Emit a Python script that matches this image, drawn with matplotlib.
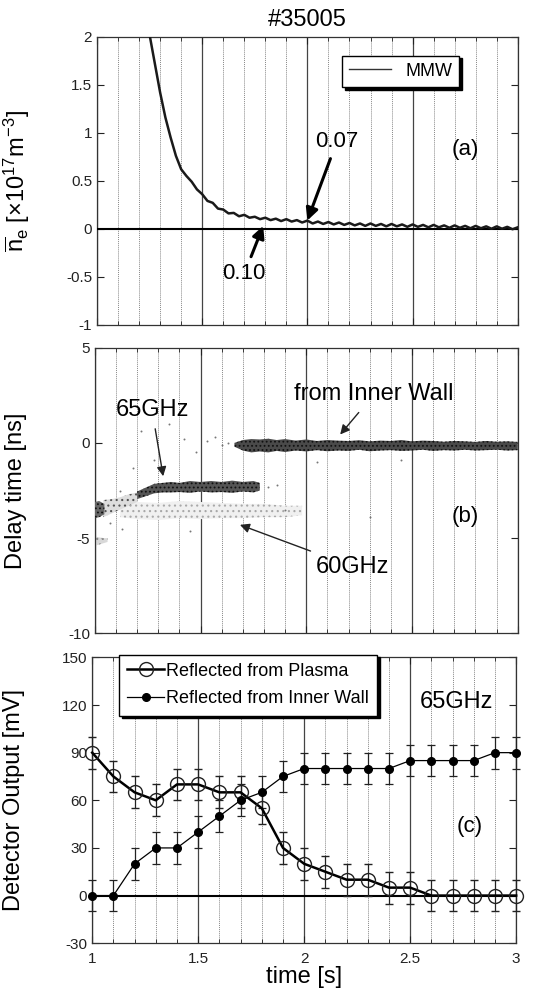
import matplotlib.pyplot as plt
import numpy as np

plt.rcParams['font.family'] = ['Liberation Sans', 'DejaVu Sans']
plt.rcParams['mathtext.fontset'] = 'custom'
plt.rcParams['mathtext.rm'] = 'Liberation Sans'
plt.rcParams['mathtext.it'] = 'Liberation Sans:italic'
plt.rcParams['axes.unicode_minus'] = False
plt.rcParams['hatch.linewidth'] = 0.8

# (a) line density from MMW, every 0.025 s starting at 1.25 s
ne_start = 1.25
ne_step = 0.025
ne_vals = [2.02, 1.72, 1.42, 1.16, 0.95, 0.76, 0.62, 0.55, 0.49, 0.41,
           0.36, 0.29, 0.27, 0.21, 0.20, 0.16, 0.165, 0.13, 0.145, 0.115,
           0.125, 0.10, 0.115, 0.09, 0.105, 0.08, 0.10, 0.075, 0.09, 0.065,
           0.085, 0.055, 0.075, 0.05, 0.07, 0.045, 0.065, 0.04, 0.06, 0.035,
           0.055, 0.03, 0.055, 0.03, 0.05, 0.025, 0.05, 0.025, 0.045, 0.02,
           0.045, 0.02, 0.04, 0.015, 0.04, 0.015, 0.035, 0.01, 0.035, 0.01,
           0.03, 0.005, 0.03, 0.005, 0.025, 0.0, 0.025, 0.0, 0.02, -0.005,
           0.015]
ne_t = ne_start + ne_step * np.arange(len(ne_vals))

# (b) delay time bands (edges)
wall_x = [1.66, 1.70, 1.74, 1.78, 1.82, 1.86, 1.90, 1.95, 2.0, 2.05,
          2.1, 2.15, 2.2, 2.25, 2.3, 2.35, 2.4, 2.45, 2.5, 2.55,
          2.6, 2.65, 2.7, 2.75, 2.8, 2.85, 2.9, 2.95, 3.0]
wall_lo = [-0.2, -0.4, -0.5, -0.45, -0.5, -0.42, -0.48, -0.4, -0.45, -0.38,
           -0.44, -0.4, -0.42, -0.36, -0.44, -0.4, -0.38, -0.42, -0.4, -0.36,
           -0.42, -0.38, -0.4, -0.36, -0.4, -0.38, -0.36, -0.4, -0.38]
wall_hi = [0.0, 0.15, 0.2, 0.18, 0.22, 0.15, 0.2, 0.12, 0.18, 0.1,
           0.15, 0.12, 0.1, 0.14, 0.08, 0.12, 0.1, 0.15, 0.08, 0.12,
           0.1, 0.06, 0.1, 0.08, 0.05, 0.1, 0.06, 0.08, 0.05]

g65_x = [1.2, 1.24, 1.28, 1.32, 1.36, 1.4, 1.45, 1.5, 1.55, 1.6, 1.65, 1.7, 1.75, 1.78]
g65_lo = [-2.95, -2.8, -2.65, -2.6, -2.6, -2.58, -2.62, -2.55, -2.6, -2.58, -2.62, -2.55, -2.6, -2.5]
g65_hi = [-2.55, -2.35, -2.15, -2.1, -2.05, -2.1, -2.0, -2.05, -2.0, -2.05, -1.98, -2.05, -2.0, -2.1]

rise_x = [1.04, 1.08, 1.12, 1.16, 1.2]
rise_lo = [-3.9, -3.7, -3.5, -3.3, -3.1]
rise_hi = [-3.0, -2.95, -2.85, -2.7, -2.6]

early_x = [1.0, 1.02, 1.045]
early_lo = [-3.95, -3.9, -3.75]
early_hi = [-3.1, -3.05, -3.2]

g60_x = [1.12, 1.2, 1.3, 1.4, 1.5, 1.6, 1.7, 1.8, 1.9, 1.98]
g60_lo = [-3.9, -4.0, -4.05, -3.95, -4.0, -3.95, -3.95, -3.9, -3.9, -3.8]
g60_hi = [-3.0, -3.1, -3.15, -3.05, -3.1, -3.15, -3.2, -3.2, -3.3, -3.3]

low_x = [1.0, 1.03, 1.06]
low_lo = [-5.4, -5.3, -5.2]
low_hi = [-4.9, -5.0, -5.0]

stray_x = [1.07, 1.12, 1.18, 1.22, 1.28, 1.35, 1.42, 1.48, 1.53, 1.57,
           1.6, 1.63, 1.82, 1.86, 1.9, 2.05, 2.3, 2.45, 1.13, 1.45]
stray_y = [-4.2, -2.5, -1.3, 0.6, -0.9, 1.0, 0.2, -0.5, 0.1, 0.3,
           -0.1, 0.0, -2.3, -2.2, -3.5, -1.0, -3.9, -0.9, -4.5, -4.6]

# (c) detector output, 65GHz
t_c = [1.0, 1.1, 1.2, 1.3, 1.4, 1.5, 1.6, 1.7, 1.8, 1.9, 2.0,
       2.1, 2.2, 2.3, 2.4, 2.5, 2.6, 2.7, 2.8, 2.9, 3.0]
plasma = [90, 75, 65, 60, 70, 70, 65, 65, 55, 30, 20,
          15, 10, 10, 5, 5, 0, 0, 0, 0, 0]
wall = [0, 0, 20, 30, 30, 40, 50, 60, 65, 75, 80,
        80, 80, 80, 80, 85, 85, 85, 85, 90, 90]
err = 10


def frame(ax):
    ax.set_xlim(1, 3)
    ax.set_xticks([1, 1.5, 2, 2.5, 3])
    ax.set_xticks(np.arange(1.1, 3.0, 0.1), minor=True)
    ax.grid(which='minor', axis='x', color='#888888', lw=0.7, ls=(0, (1, 1)))
    ax.grid(which='major', axis='x', color='#444444', lw=0.9, ls='-')
    ax.tick_params(which='both', direction='in', right=True, top=True,
                   labelsize=11, colors='#222222')
    ax.tick_params(which='major', length=5)
    ax.tick_params(which='minor', length=3)
    for s in ax.spines.values():
        s.set_color('#333333')
        s.set_linewidth(0.9)


fig = plt.figure(figsize=(5.36, 9.96), dpi=100)
ax_a = fig.add_axes([0.181, 0.674, 0.785, 0.289])
ax_b = fig.add_axes([0.177, 0.364, 0.789, 0.287])
ax_c = fig.add_axes([0.172, 0.053, 0.791, 0.287])

# ---- (a)
frame(ax_a)
ax_a.set_ylim(-1, 2)
ax_a.set_yticks([-1, -0.5, 0, 0.5, 1, 1.5, 2])
ax_a.set_yticklabels(['-1', '-0.5', '0', '0.5', '1', '1.5', '2'])
ax_a.tick_params(labelbottom=False)
ax_a.axhline(0, color='k', lw=1.5, zorder=3)
ax_a.plot(ne_t, ne_vals, color='#1a1a1a', lw=1.8, zorder=4)
ax_a.plot([], [], color='#333333', lw=1, label='MMW')
ax_a.legend(loc='upper left', bbox_to_anchor=(0.582, 0.935), fontsize=13,
            fancybox=False, edgecolor='k', framealpha=1, handlelength=2.3,
            borderaxespad=0, shadow={'color': 'k', 'alpha': 1})
ax_a.set_title('#35005', fontsize=17, pad=8)
ax_a.set_ylabel(r'$\overline{\mathrm{n}}_\mathrm{e}$ [×10$^{17}$m$^{-3}$]', fontsize=17)
ax_a.yaxis.set_label_coords(-0.154, 0.5)
ax_a.annotate('0.07', xy=(2.0, 0.086), xytext=(2.14, 0.91), fontsize=16,
              ha='center', va='center',
              arrowprops=dict(arrowstyle='-|>', color='k', lw=2.2,
                              mutation_scale=18, shrinkA=3, shrinkB=0))
ax_a.annotate('0.10', xy=(1.79, 0.03), xytext=(1.70, -0.47), fontsize=16,
              ha='center', va='center',
              arrowprops=dict(arrowstyle='-|>', color='k', lw=2.2,
                              mutation_scale=18, shrinkA=3, shrinkB=0))
ax_a.text(2.75, 0.83, '(a)', fontsize=16, ha='center', va='center')

# ---- (b)
frame(ax_b)
ax_b.set_ylim(-10, 5)
ax_b.set_yticks([-10, -5, 0, 5])
ax_b.tick_params(labelbottom=False)
ax_b.fill_between(g60_x, g60_lo, g60_hi, facecolor='#f0f0f0', edgecolor='#a8a8a8',
                  hatch='...', lw=0, zorder=2)
ax_b.fill_between(low_x, low_lo, low_hi, facecolor='#d8d8d8', edgecolor='#888888',
                  hatch='...', lw=0, zorder=2)
ax_b.fill_between(rise_x, rise_lo, rise_hi, facecolor='#dddddd', edgecolor='#555555',
                  hatch='...', lw=0, zorder=2)
ax_b.fill_between(early_x, early_lo, early_hi, facecolor='#666666', edgecolor='#111111',
                  hatch='....', lw=0, zorder=3)
ax_b.fill_between(g65_x, g65_lo, g65_hi, facecolor='#555555', edgecolor='#111111',
                  hatch='....', lw=0, zorder=3)
ax_b.fill_between(wall_x, wall_lo, wall_hi, facecolor='#4a4a4a', edgecolor='#111111',
                  hatch='....', lw=0, zorder=3)
ax_b.scatter(stray_x, stray_y, s=2, color='#777777', zorder=3, lw=0)
ax_b.set_ylabel('Delay time [ns]', fontsize=17)
ax_b.yaxis.set_label_coords(-0.161, 0.5)
ax_b.annotate('65GHz', xy=(1.323, -1.75), xytext=(1.27, 1.75), fontsize=17,
              ha='center', va='center',
              arrowprops=dict(arrowstyle='-|>', color='#222222', lw=1,
                              mutation_scale=14, shrinkA=4, shrinkB=0))
ax_b.annotate('from Inner Wall', xy=(2.16, 0.44), xytext=(2.32, 2.54), fontsize=17,
              ha='center', va='center',
              arrowprops=dict(arrowstyle='-|>', color='#222222', lw=1,
                              mutation_scale=14, shrinkA=4, shrinkB=0))
ax_b.annotate('60GHz', xy=(1.686, -4.3), xytext=(2.22, -6.5), fontsize=17,
              ha='center', va='center',
              arrowprops=dict(arrowstyle='-|>', color='#222222', lw=1,
                              mutation_scale=14, shrinkA=4, shrinkB=0))
ax_b.text(2.75, -3.86, '(b)', fontsize=16, ha='center', va='center')

# ---- (c)
frame(ax_c)
ax_c.set_ylim(-30, 150)
ax_c.set_yticks([-30, 0, 30, 60, 90, 120, 150])
ax_c.set_xticklabels(['1', '1.5', '2', '2.5', '3'])
ax_c.tick_params(axis='x', pad=6)
ax_c.axhline(0, color='k', lw=1.5, zorder=2)
ax_c.errorbar(t_c, plasma, yerr=err, color='k', lw=1.8, ecolor='#222222',
              elinewidth=0.9, capsize=3, capthick=0.9, marker='o', ms=10,
              mfc='none', mec='#222222', mew=1, zorder=4, clip_on=False)
ax_c.errorbar(t_c, wall, yerr=err, color='k', lw=0.9, ecolor='#222222',
              elinewidth=0.9, capsize=3, capthick=0.9, marker='o', ms=5.5,
              mfc='k', mec='k', zorder=4, clip_on=False)
ax_c.plot([], [], color='k', lw=1.8, marker='o', ms=10, mfc='none', mec='#222222',
          mew=1, label='Reflected from Plasma')
ax_c.plot([], [], color='k', lw=0.9, marker='o', ms=5.5, mfc='k', mec='k',
          label='Reflected from Inner Wall')
ax_c.legend(loc='upper left', bbox_to_anchor=(0.064, 1.01), fontsize=13,
            fancybox=False, edgecolor='k', framealpha=1, handlelength=2.0,
            borderaxespad=0, labelspacing=0.6, handletextpad=0.15,
            borderpad=0.45, shadow={'color': 'k', 'alpha': 1})
ax_c.set_ylabel('Detector Output [mV]', fontsize=17)
ax_c.yaxis.set_label_coords(-0.158, 0.5)
ax_c.set_xlabel('time [s]', fontsize=17, labelpad=0)
ax_c.text(2.72, 122, '65GHz', fontsize=17, ha='center', va='center')
ax_c.text(2.78, 43.5, '(c)', fontsize=16, ha='center', va='center')

fig.savefig('out.png', dpi=100)
